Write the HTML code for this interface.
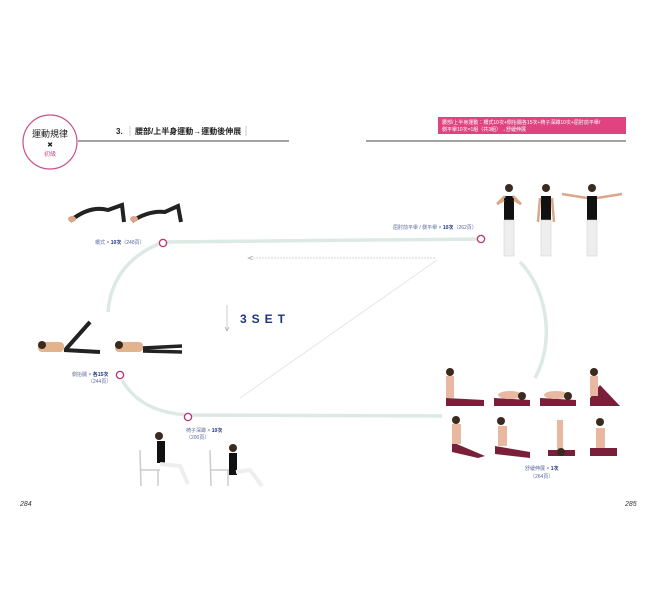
<!DOCTYPE html>
<html><head><meta charset="utf-8"><style>
html,body{margin:0;padding:0;background:#fff;}
body{width:655px;height:609px;overflow:hidden;font-family:"Liberation Sans","Noto Sans CJK TC",sans-serif;}
svg text{font-family:"Liberation Sans","Noto Sans CJK TC",sans-serif;}
</style></head><body>
<svg width="655" height="609" viewBox="0 0 655 609" xmlns="http://www.w3.org/2000/svg">
<rect width="655" height="609" fill="#fff"/>
<circle cx="50" cy="142" r="27" fill="#fff" stroke="#c9508a" stroke-width="1.2"/>
<text x="50" y="137" font-size="9" text-anchor="middle" fill="#222">運動規律</text>
<text x="50" y="147" font-size="7" text-anchor="middle" fill="#222">✖</text>
<text x="50" y="156" font-size="6" text-anchor="middle" fill="#c9508a">初級</text>
<line x1="78" y1="141" x2="289" y2="141" stroke="#444" stroke-width="1"/>
<text x="116" y="134" font-size="8" font-weight="bold" fill="#222">3.</text>
<line x1="130" y1="126" x2="130" y2="136" stroke="#aaa" stroke-width="0.6"/>
<text x="135" y="134" font-size="8" font-weight="bold" fill="#222">腰部/上半身運動→運動後伸展</text>
<line x1="246" y1="126" x2="246" y2="136" stroke="#aaa" stroke-width="0.6"/>
<line x1="366" y1="141" x2="626" y2="141" stroke="#444" stroke-width="1"/>
<rect x="438" y="117" width="188" height="17" fill="#e0437f"/>
<text x="442" y="124" font-size="5" fill="#fff">腰部/上半身運動：橋式10次+側抬腿各15次+椅子深蹲10次+屈肘前平舉/</text>
<text x="442" y="131" font-size="5" fill="#fff">側平舉10次=1組（共3組）→舒緩伸展</text>
<g fill="none" stroke="#dde9e3" stroke-width="3.5">
<path d="M163 242 L481 239"/>
<path d="M163 242 Q112 262 108 312"/>
<path d="M520 262 C546 288 556 340 535 378"/>
<path d="M122 380 Q140 412 187 415 L442 416"/>
</g>
<line x1="437" y1="260" x2="240" y2="398" stroke="#e6e6e6" stroke-width="1"/>
<line x1="435" y1="258" x2="250" y2="258" stroke="#aaa" stroke-width="0.6" stroke-dasharray="2,1"/>
<path d="M253 256 L248 258 L253 260" fill="none" stroke="#999" stroke-width="0.6"/>
<line x1="227" y1="305" x2="227" y2="330" stroke="#aaa" stroke-width="0.6"/>
<path d="M225 327 L227 331 L229 327" fill="none" stroke="#999" stroke-width="0.6"/>
<text x="240" y="323" font-size="12" font-weight="bold" fill="#1f3580" letter-spacing="5">3SET</text>
<g fill="#fff" stroke="#b8336f" stroke-width="1.3">
<circle cx="163" cy="243" r="3.6"/><circle cx="481" cy="239" r="3.6"/>
<circle cx="120" cy="375" r="3.6"/><circle cx="188" cy="417" r="3.6"/>
</g>
<text x="95" y="244" font-size="5" fill="#5b6a9a">橋式 × <tspan font-weight="bold" fill="#1f3580">10次</tspan>（248頁）</text>
<text x="393" y="229" font-size="5" fill="#5b6a9a">屈肘前平舉 / 側平舉 × <tspan font-weight="bold" fill="#1f3580">10次</tspan>（262頁）</text>
<text x="72" y="376" font-size="5" fill="#5b6a9a">側抬腿 × <tspan font-weight="bold" fill="#1f3580">各15次</tspan></text>
<text x="88" y="383" font-size="5" fill="#5b6a9a">（244頁）</text>
<text x="186" y="432" font-size="5" fill="#5b6a9a">椅子深蹲 × <tspan font-weight="bold" fill="#1f3580">10次</tspan></text>
<text x="186" y="439" font-size="5" fill="#5b6a9a">（200頁）</text>
<text x="525" y="470" font-size="5" fill="#5b6a9a">舒緩伸展 × <tspan font-weight="bold" fill="#1f3580">1次</tspan></text>
<text x="530" y="478" font-size="5" fill="#5b6a9a">（264頁）</text>
<text x="20" y="506" font-size="7" font-style="italic" fill="#333" font-family="Liberation Serif">284</text>
<text x="625" y="506" font-size="7" font-style="italic" fill="#333" font-family="Liberation Serif">285</text>
<g>
<path d="M70 221 Q90 205 108 210 L122 205 L124 222" fill="none" stroke="#222" stroke-width="4"/>
<ellipse cx="72" cy="219" rx="4" ry="3" fill="#d9a88a"/>
<path d="M132 221 Q150 210 165 212 L178 206 L181 222" fill="none" stroke="#222" stroke-width="4"/>
<ellipse cx="134" cy="219" rx="4" ry="3" fill="#d9a88a"/>
</g>
<g>
<rect x="38" y="342" width="26" height="10" rx="4" fill="#e2b48e"/><circle cx="42" cy="345" r="4" fill="#3a2a20"/>
<path d="M64 350 L100 352 M66 349 L90 322" stroke="#222" stroke-width="4" fill="none"/>
<rect x="115" y="342" width="28" height="10" rx="4" fill="#e2b48e"/><circle cx="119" cy="345" r="4" fill="#3a2a20"/>
<path d="M143 348 L182 346 M143 351 L182 352" stroke="#222" stroke-width="3.5" fill="none"/>
</g>
<g>
<g transform="translate(509,188)"><circle cx="0" cy="0" r="4" fill="#3a2a20"/><rect x="-5" y="8" width="10" height="24" fill="#111"/><rect x="-5" y="32" width="10" height="36" fill="#eee" stroke="#ccc" stroke-width="0.5"/><path d="M-5 12 L-12 16 L-4 8 M5 12 L12 16 L4 8" stroke="#d9a88a" stroke-width="2.5" fill="none"/></g>
<g transform="translate(546,188)"><circle cx="0" cy="0" r="4" fill="#3a2a20"/><rect x="-5" y="8" width="10" height="24" fill="#111"/><rect x="-5" y="32" width="10" height="36" fill="#eee" stroke="#ccc" stroke-width="0.5"/><path d="M-6 10 L-8 34 M6 10 L8 34" stroke="#d9a88a" stroke-width="2.5" fill="none"/></g>
<g transform="translate(592,188)"><circle cx="0" cy="0" r="4" fill="#3a2a20"/><rect x="-5" y="8" width="10" height="24" fill="#111"/><rect x="-5" y="32" width="10" height="36" fill="#eee" stroke="#ccc" stroke-width="0.5"/><path d="M-5 10 L-30 6 M5 10 L30 6" stroke="#d9a88a" stroke-width="2.5" fill="none"/></g>
</g>
<g fill="#7a1f3a">
<path d="M446 398 L484 400 L484 406 L446 406Z"/><rect x="446" y="376" width="8" height="22" fill="#e8b9a0"/><circle cx="450" cy="372" r="4" fill="#3a2a20"/>
<path d="M494 398 L530 400 L530 406 L494 406Z"/><ellipse cx="510" cy="395" rx="12" ry="4" fill="#e8b9a0"/><circle cx="522" cy="396" r="4" fill="#3a2a20"/>
<path d="M540 398 L576 400 L576 406 L540 406Z"/><ellipse cx="556" cy="395" rx="12" ry="4" fill="#e8b9a0"/><circle cx="568" cy="396" r="4" fill="#3a2a20"/>
<path d="M590 398 L600 385 L620 406 L590 406Z"/><rect x="590" y="376" width="8" height="20" fill="#e8b9a0"/><circle cx="594" cy="372" r="4" fill="#3a2a20"/>
<path d="M452 442 L485 456 L478 458 L452 452Z"/><rect x="452" y="424" width="9" height="20" fill="#e8b9a0"/><circle cx="456" cy="420" r="4" fill="#3a2a20"/>
<path d="M495 446 L530 452 L530 458 L495 454Z"/><rect x="498" y="426" width="9" height="20" fill="#e8b9a0"/><circle cx="501" cy="421" r="4" fill="#3a2a20"/>
<path d="M548 450 L575 450 L575 456 L548 456Z"/><rect x="557" y="420" width="6" height="30" fill="#e8b9a0"/><circle cx="561" cy="452" r="4" fill="#3a2a20"/>
<path d="M590 448 L617 448 L617 456 L590 456Z"/><rect x="596" y="428" width="9" height="20" fill="#e8b9a0"/><circle cx="600" cy="422" r="4" fill="#3a2a20"/>
</g>
<g>
<path d="M140 450 L141 486 M140 470 L160 470 M158 470 L158 486" stroke="#ccc" stroke-width="1.5" fill="none"/>
<circle cx="159" cy="436" r="4" fill="#3a2a20"/><rect x="157" y="441" width="8" height="22" fill="#111"/>
<path d="M160 464 L180 466 L188 484" stroke="#eee" stroke-width="4" fill="none"/>
<path d="M210 450 L211 486 M210 470 L230 470 M228 470 L228 486" stroke="#ccc" stroke-width="1.5" fill="none"/>
<circle cx="233" cy="448" r="4" fill="#3a2a20"/><rect x="229" y="453" width="8" height="22" fill="#111"/>
<path d="M236 472 L250 470 L262 486" stroke="#eee" stroke-width="4" fill="none"/>
</g>
</svg>
</body></html>
